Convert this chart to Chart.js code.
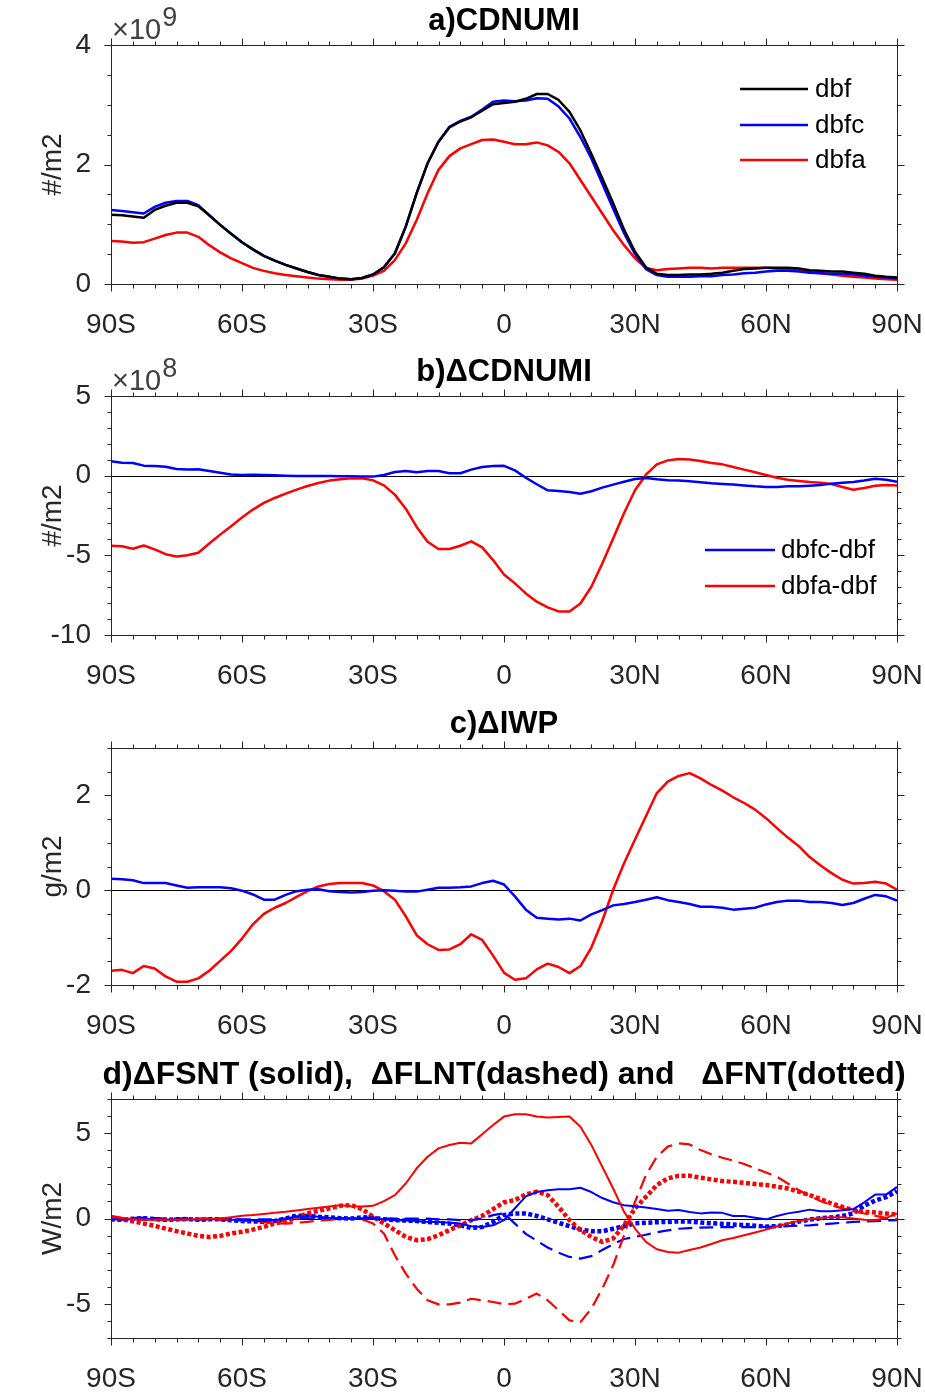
<!DOCTYPE html>
<html>
<head>
<meta charset="utf-8">
<script src="https://cdn.jsdelivr.net/npm/chart.js@4.4.0/dist/chart.umd.min.js"></script>
<style>
  html, body { margin: 0; padding: 0; background: #fff; }
  #page { position: relative; width: 925px; height: 1394px; overflow: hidden; }
  canvas { position: absolute; left: 0; }
</style>
</head>
<body>
<div id="page">
  <canvas id="chartA" width="925" height="350" style="top:0px"></canvas>
  <canvas id="chartB" width="925" height="350" style="top:350px"></canvas>
  <canvas id="chartC" width="925" height="350" style="top:700px"></canvas>
  <canvas id="chartD" width="925" height="344" style="top:1050px"></canvas>
</div>
<script>
// latitude grid (deg), 90S..90N
const lat = [-90, -87.5, -85, -82.5, -80, -77.5, -75, -72.5, -70, -67.5, -65, -62.5, -60, -57.5, -55, -52.5,
  -50, -47.5, -45, -42.5, -40, -37.5, -35, -32.5, -30, -27.5, -25, -22.5, -20, -17.5, -15, -12.5,
  -10, -7.5, -5, -2.5, 0, 2.5, 5, 7.5, 10, 12.5, 15, 17.5, 20, 22.5, 25, 27.5,
  30, 32.5, 35, 37.5, 40, 42.5, 45, 47.5, 50, 52.5, 55, 57.5, 60, 62.5, 65, 67.5,
  70, 72.5, 75, 77.5, 80, 82.5, 85, 87.5, 90];

const xTickVals = [-90, -60, -30, 0, 30, 60, 90];
const xTickLabels = ['90S', '60S', '30S', '0', '30N', '60N', '90N'];

// a) CDNUMI, x1e9 #/m2
const dbf = [1.16, 1.15, 1.13, 1.11, 1.24, 1.31, 1.36, 1.36, 1.30, 1.15, 0.99, 0.84, 0.70, 0.58, 0.47, 0.39,
  0.32, 0.26, 0.20, 0.15, 0.12, 0.09, 0.08, 0.10, 0.16, 0.28, 0.51, 0.96, 1.52, 2.02, 2.38, 2.62,
  2.72, 2.79, 2.90, 3.01, 3.03, 3.05, 3.10, 3.18, 3.18, 3.08, 2.88, 2.57, 2.18, 1.77, 1.35, 0.91,
  0.54, 0.28, 0.17, 0.15, 0.15, 0.16, 0.16, 0.17, 0.19, 0.22, 0.25, 0.26, 0.27, 0.27, 0.27, 0.26,
  0.23, 0.22, 0.21, 0.21, 0.19, 0.17, 0.14, 0.12, 0.11];
const dbfc = [1.24, 1.22, 1.20, 1.18, 1.29, 1.36, 1.39, 1.39, 1.32, 1.15, 0.99, 0.84, 0.70, 0.58, 0.47, 0.39,
  0.32, 0.26, 0.20, 0.15, 0.12, 0.09, 0.08, 0.10, 0.16, 0.28, 0.51, 0.96, 1.52, 2.02, 2.38, 2.63,
  2.73, 2.80, 2.92, 3.05, 3.07, 3.06, 3.07, 3.11, 3.10, 2.97, 2.77, 2.46, 2.10, 1.68, 1.26, 0.85,
  0.50, 0.25, 0.15, 0.12, 0.12, 0.12, 0.13, 0.13, 0.15, 0.16, 0.18, 0.19, 0.21, 0.22, 0.22, 0.21,
  0.19, 0.18, 0.17, 0.17, 0.16, 0.14, 0.12, 0.11, 0.09];
const dbfa = [0.72, 0.71, 0.69, 0.70, 0.76, 0.82, 0.86, 0.86, 0.79, 0.65, 0.53, 0.43, 0.35, 0.27, 0.22, 0.18,
  0.15, 0.13, 0.11, 0.09, 0.08, 0.07, 0.07, 0.09, 0.14, 0.22, 0.40, 0.68, 1.07, 1.52, 1.91, 2.14,
  2.27, 2.34, 2.41, 2.42, 2.38, 2.34, 2.34, 2.37, 2.32, 2.21, 2.02, 1.74, 1.46, 1.18, 0.90, 0.65,
  0.43, 0.27, 0.23, 0.25, 0.26, 0.27, 0.27, 0.26, 0.27, 0.27, 0.27, 0.27, 0.27, 0.26, 0.25, 0.22,
  0.20, 0.18, 0.16, 0.14, 0.12, 0.11, 0.09, 0.08, 0.07];

// b) delta CDNUMI, x1e8 #/m2
const dCdnC = [0.90, 0.81, 0.79, 0.63, 0.61, 0.56, 0.42, 0.38, 0.40, 0.29, 0.19, 0.08, 0.04, 0.06, 0.04, 0.02,
  0.00, -0.02, -0.02, -0.02, -0.02, -0.04, -0.04, -0.06, -0.06, 0.04, 0.23, 0.29, 0.21, 0.29, 0.29, 0.15,
  0.15, 0.38, 0.54, 0.60, 0.62, 0.33, -0.13, -0.54, -0.92, -0.96, -1.02, -1.13, -0.98, -0.75, -0.56, -0.38,
  -0.21, -0.15, -0.23, -0.29, -0.31, -0.35, -0.42, -0.48, -0.52, -0.56, -0.61, -0.67, -0.71, -0.71, -0.67, -0.67,
  -0.63, -0.58, -0.50, -0.44, -0.40, -0.31, -0.19, -0.25, -0.38];
const dCdnA = [-4.40, -4.43, -4.59, -4.38, -4.63, -4.93, -5.07, -4.99, -4.84, -4.26, -3.70, -3.17, -2.63, -2.13, -1.71, -1.40,
  -1.13, -0.88, -0.65, -0.46, -0.31, -0.23, -0.17, -0.17, -0.29, -0.61, -1.19, -2.07, -3.22, -4.15, -4.60, -4.60,
  -4.40, -4.12, -4.50, -5.30, -6.20, -6.76, -7.39, -7.91, -8.27, -8.52, -8.52, -8.02, -6.97, -5.51, -3.95, -2.34,
  -0.92, 0.06, 0.71, 0.96, 1.04, 1.02, 0.92, 0.79, 0.71, 0.54, 0.38, 0.21, 0.04, -0.13, -0.25, -0.33,
  -0.40, -0.44, -0.52, -0.71, -0.88, -0.77, -0.63, -0.58, -0.61];

// c) delta IWP, g/m2
const dIwpC = [0.24, 0.23, 0.21, 0.15, 0.15, 0.15, 0.10, 0.05, 0.06, 0.06, 0.06, 0.04, -0.01, -0.09, -0.20, -0.20,
  -0.10, -0.02, 0.01, 0.02, -0.02, -0.04, -0.05, -0.04, -0.01, 0.00, -0.01, -0.03, -0.03, 0.01, 0.05, 0.05,
  0.06, 0.08, 0.15, 0.20, 0.12, -0.13, -0.41, -0.58, -0.60, -0.62, -0.60, -0.64, -0.51, -0.42, -0.32, -0.29,
  -0.25, -0.20, -0.15, -0.21, -0.25, -0.29, -0.35, -0.35, -0.37, -0.41, -0.39, -0.37, -0.30, -0.25, -0.22, -0.22,
  -0.25, -0.25, -0.27, -0.31, -0.27, -0.18, -0.10, -0.13, -0.22];
const dIwpA = [-1.70, -1.68, -1.75, -1.60, -1.65, -1.82, -1.93, -1.93, -1.86, -1.70, -1.49, -1.28, -1.02, -0.72, -0.50, -0.37,
  -0.27, -0.14, -0.02, 0.08, 0.13, 0.15, 0.15, 0.15, 0.10, -0.02, -0.20, -0.55, -0.95, -1.14, -1.26, -1.25,
  -1.14, -0.93, -1.05, -1.38, -1.74, -1.89, -1.86, -1.67, -1.55, -1.62, -1.75, -1.60, -1.21, -0.65, 0.01, 0.57,
  1.07, 1.56, 2.05, 2.29, 2.41, 2.47, 2.36, 2.22, 2.10, 1.96, 1.84, 1.70, 1.52, 1.31, 1.11, 0.93,
  0.70, 0.52, 0.36, 0.22, 0.14, 0.15, 0.18, 0.14, 0.01];

// d) delta FSNT / FLNT / FNT, W/m2
const fsntA = [0.16, 0.04, -0.04, -0.08, -0.08, -0.08, -0.08, -0.06, -0.04, -0.02, 0.00, 0.08, 0.16, 0.20, 0.27, 0.33,
  0.39, 0.47, 0.55, 0.63, 0.70, 0.78, 0.72, 0.70, 0.74, 1.02, 1.37, 2.05, 2.94, 3.62, 4.11, 4.31,
  4.44, 4.40, 4.93, 5.48, 5.97, 6.11, 6.11, 5.97, 5.91, 5.95, 5.97, 5.38, 4.31, 3.03, 1.76, 0.39,
  -0.59, -1.37, -1.80, -1.96, -2.00, -1.84, -1.70, -1.49, -1.27, -1.14, -0.98, -0.82, -0.65, -0.45, -0.29, -0.14,
  -0.04, 0.04, 0.08, 0.08, 0.00, -0.08, -0.10, 0.04, 0.29];
const flntA = [0.05, 0.00, -0.02, -0.05, -0.05, -0.05, -0.05, -0.05, -0.05, -0.05, -0.08, -0.10, -0.12, -0.15, -0.20, -0.25,
  -0.30, -0.25, -0.20, -0.12, -0.08, -0.02, 0.00, -0.05, -0.29, -0.88, -2.15, -3.23, -4.11, -4.79, -5.03, -5.03,
  -4.93, -4.70, -4.79, -4.89, -5.02, -4.99, -4.70, -4.40, -4.79, -5.38, -5.97, -6.07, -5.28, -4.11, -2.74, -0.98,
  0.98, 2.54, 3.62, 4.21, 4.40, 4.34, 4.01, 3.76, 3.56, 3.39, 3.19, 2.94, 2.70, 2.45, 2.05, 1.66,
  1.33, 1.02, 0.78, 0.59, 0.43, 0.29, 0.16, 0.04, -0.04];
const fntA = [0.05, -0.05, -0.16, -0.30, -0.43, -0.59, -0.74, -0.88, -1.02, -1.08, -1.02, -0.88, -0.78, -0.65, -0.49, -0.29,
  -0.16, 0.04, 0.30, 0.45, 0.60, 0.75, 0.78, 0.55, 0.10, -0.29, -0.68, -1.08, -1.27, -1.21, -0.98, -0.68,
  -0.39, -0.10, 0.15, 0.55, 0.95, 1.08, 1.41, 1.57, 1.37, 0.68, -0.10, -0.68, -1.08, -1.37, -1.17, -0.39,
  0.59, 1.27, 1.96, 2.35, 2.50, 2.50, 2.39, 2.29, 2.19, 2.15, 2.09, 2.02, 1.96, 1.86, 1.76, 1.57,
  1.37, 1.14, 0.88, 0.68, 0.49, 0.39, 0.35, 0.29, 0.23];
const fsntC = [-0.05, -0.08, -0.05, -0.03, -0.05, -0.08, -0.05, -0.05, -0.08, -0.05, -0.05, -0.08, -0.10, -0.12, -0.15, -0.10,
  0.00, 0.12, 0.15, 0.10, 0.05, 0.02, 0.00, 0.02, 0.00, -0.05, -0.10, -0.12, -0.15, -0.20, -0.20, -0.25,
  -0.30, -0.45, -0.50, -0.40, -0.10, 0.60, 1.30, 1.55, 1.65, 1.72, 1.72, 1.80, 1.55, 1.20, 0.95, 0.78,
  0.72, 0.65, 0.55, 0.45, 0.50, 0.38, 0.30, 0.35, 0.33, 0.15, 0.15, 0.05, -0.05, 0.15, 0.30, 0.40,
  0.52, 0.42, 0.42, 0.48, 0.55, 0.95, 1.40, 1.40, 1.85];
const flntC = [0.00, 0.00, 0.03, 0.05, 0.03, 0.00, 0.00, 0.02, 0.00, 0.00, 0.00, -0.02, -0.05, -0.05, -0.05, -0.05,
  0.00, 0.05, 0.00, 0.00, 0.02, 0.00, 0.00, 0.05, 0.05, 0.00, 0.00, 0.00, 0.00, 0.00, -0.05, -0.05,
  -0.10, -0.10, 0.00, 0.20, 0.30, -0.30, -0.90, -1.30, -1.70, -2.00, -2.25, -2.35, -2.20, -1.85, -1.50, -1.20,
  -1.08, -0.95, -0.80, -0.70, -0.60, -0.56, -0.53, -0.52, -0.50, -0.50, -0.50, -0.50, -0.49, -0.47, -0.45, -0.42,
  -0.40, -0.35, -0.30, -0.25, -0.20, -0.18, -0.15, -0.12, -0.10];
const fntC = [-0.05, -0.08, -0.02, 0.02, -0.03, -0.08, -0.05, -0.03, -0.08, -0.05, -0.05, -0.10, -0.15, -0.17, -0.20, -0.15,
  0.00, 0.17, 0.15, 0.10, 0.07, 0.02, 0.00, 0.07, 0.05, -0.05, -0.10, -0.12, -0.15, -0.20, -0.25, -0.30,
  -0.40, -0.55, -0.50, -0.20, 0.20, 0.30, 0.30, 0.15, -0.05, -0.25, -0.45, -0.65, -0.75, -0.75, -0.60, -0.45,
  -0.28, -0.25, -0.22, -0.20, -0.17, -0.18, -0.23, -0.28, -0.31, -0.35, -0.38, -0.42, -0.47, -0.45, -0.35, -0.18,
  -0.06, 0.02, 0.06, 0.15, 0.30, 0.75, 1.05, 1.25, 1.60];

const FONT = '"Liberation Sans", Arial, Helvetica, sans-serif';
const AXIS_COLOR = '#262626';

function pts(vals) {
  return vals.map((v, i) => ({ x: lat[i], y: v }));
}

// box, outward ticks, zero line, title, y label, exponent and legend
const framePlugin = {
  id: 'frame',
  beforeDatasetsDraw(chart, args, o) {
    const { ctx, chartArea: a, scales: { y } } = chart;
    if (o.zeroLine) {
      const y0 = Math.round(y.getPixelForValue(0)) + 0.5;
      ctx.save();
      ctx.strokeStyle = '#000';
      ctx.lineWidth = 1;
      ctx.beginPath();
      ctx.moveTo(a.left, y0);
      ctx.lineTo(a.right, y0);
      ctx.stroke();
      ctx.restore();
    }
  },
  afterDraw(chart, args, o) {
    const { ctx, chartArea: a, scales: { x, y } } = chart;
    ctx.save();
    ctx.strokeStyle = AXIS_COLOR;
    ctx.lineWidth = 1;
    const L = Math.round(a.left) + 0.5, R = Math.round(a.right) + 0.5;
    const T = Math.round(a.top) + 0.5, B = Math.round(a.bottom) + 0.5;
    ctx.strokeRect(L, T, R - L, B - T);

    ctx.beginPath();
    for (let v = -90; v <= 90; v += 5) {
      const px = Math.round(x.getPixelForValue(v)) + 0.5;
      const len = v % 30 === 0 ? 7 : 4;
      ctx.moveTo(px, T); ctx.lineTo(px, T - len);
      ctx.moveTo(px, B); ctx.lineTo(px, B + len);
    }
    for (let v = y.min; v <= y.max + 1e-9; v += o.yMinor) {
      const py = Math.round(y.getPixelForValue(v)) + 0.5;
      const major = o.yMajor.some(m => Math.abs(m - v) < 1e-9);
      const len = major ? 7 : 4;
      ctx.moveTo(L, py); ctx.lineTo(L - len, py);
      ctx.moveTo(R, py); ctx.lineTo(R + len, py);
    }
    ctx.stroke();

    // title
    ctx.fillStyle = '#000';
    ctx.font = 'bold ' + o.titleSize + 'px ' + FONT;
    ctx.textAlign = 'center';
    ctx.textBaseline = 'middle';
    ctx.fillText(o.title, (a.left + a.right) / 2, a.top - 24);

    // y label
    ctx.save();
    ctx.translate(53, (a.top + a.bottom) / 2);
    ctx.rotate(-Math.PI / 2);
    ctx.fillStyle = AXIS_COLOR;
    ctx.font = '28px ' + FONT;
    ctx.fillText(o.yLabel, 0, 0);
    ctx.restore();

    // exponent
    if (o.exponent) {
      ctx.fillStyle = '#404040';
      ctx.textAlign = 'left';
      ctx.textBaseline = 'alphabetic';
      ctx.font = '29px ' + FONT;
      const base = '\u00d710';
      ctx.fillText(base, a.left + 1, a.top - 6);
      const w = ctx.measureText(base).width;
      ctx.font = '27px ' + FONT;
      ctx.fillText(o.exponent, a.left + 2 + w, a.top - 19);
    }

    // legend
    if (o.legend) {
      const lg = o.legend;
      ctx.textAlign = 'left';
      ctx.textBaseline = 'middle';
      ctx.font = '26px ' + FONT;
      chart.data.datasets.forEach((ds, i) => {
        const yy = lg.ys[i];
        ctx.strokeStyle = ds.borderColor;
        ctx.lineWidth = 2.5;
        ctx.beginPath();
        ctx.moveTo(lg.x0, yy);
        ctx.lineTo(lg.x1, yy);
        ctx.stroke();
        ctx.fillStyle = '#000';
        ctx.fillText(ds.label, lg.tx, yy + 1);
      });
    }
    ctx.restore();
  }
};

function makePanel(id, datasets, p) {
  const ctx = document.getElementById(id).getContext('2d');
  return new Chart(ctx, {
    type: 'line',
    data: { datasets: datasets },
    options: {
      responsive: false,
      animation: false,
      devicePixelRatio: 1,
      parsing: false,
      layout: { padding: { top: p.padTop, right: 28, left: 0, bottom: 0 } },
      elements: {
        point: { radius: 0 },
        line: { tension: 0, borderWidth: 2.5, fill: false, borderJoinStyle: 'round' }
      },
      scales: {
        x: {
          type: 'linear', min: -90, max: 90,
          afterBuildTicks: s => { s.ticks = xTickVals.map(v => ({ value: v })); },
          afterFit: s => { s.height = p.xAxisH; s.paddingLeft = 0; s.paddingRight = 0; },
          grid: { display: false }, border: { display: false },
          ticks: {
            callback: (v, i) => xTickLabels[i],
            font: { family: FONT, size: 28 }, color: AXIS_COLOR,
            padding: 16, maxRotation: 0, autoSkip: false
          }
        },
        y: {
          type: 'linear', min: p.yMin, max: p.yMax,
          afterBuildTicks: s => { s.ticks = p.yTicks.map(v => ({ value: v })); },
          afterFit: s => { s.width = 111; },
          grid: { display: false }, border: { display: false },
          ticks: {
            font: { family: FONT, size: 28 }, color: AXIS_COLOR, padding: 12
          }
        }
      },
      plugins: {
        legend: { display: false },
        tooltip: { enabled: false },
        frame: {
          title: p.title, titleSize: p.titleSize || 31, yLabel: p.yLabel, exponent: p.exponent,
          zeroLine: p.zeroLine, yMinor: p.yMinor, yMajor: p.yTicks, legend: p.legend
        }
      }
    },
    plugins: [framePlugin]
  });
}

const RED = '#ff0000', BLUE = '#0000ff', BLACK = '#000000';

makePanel('chartA', [
  { label: 'dbf', data: pts(dbf), borderColor: BLACK },
  { label: 'dbfc', data: pts(dbfc), borderColor: BLUE },
  { label: 'dbfa', data: pts(dbfa), borderColor: RED }
], {
  padTop: 45, xAxisH: 66, yMin: 0, yMax: 4, yTicks: [0, 2, 4], yMinor: 0.5,
  title: 'a)CDNUMI', yLabel: '#/m2', exponent: '9', zeroLine: false,
  legend: { x0: 740, x1: 808, tx: 815, ys: [89, 125, 160] }
});

makePanel('chartB', [
  { label: 'dbfc-dbf', data: pts(dCdnC), borderColor: BLUE },
  { label: 'dbfa-dbf', data: pts(dCdnA), borderColor: RED }
], {
  padTop: 46, xAxisH: 65, yMin: -10, yMax: 5, yTicks: [-10, -5, 0, 5], yMinor: 1,
  title: 'b)\u0394CDNUMI', yLabel: '#/m2', exponent: '8', zeroLine: true,
  legend: { x0: 705, x1: 775, tx: 781, ys: [200, 236] }
});

makePanel('chartC', [
  { label: 'dbfc-dbf', data: pts(dIwpC), borderColor: BLUE },
  { label: 'dbfa-dbf', data: pts(dIwpA), borderColor: RED }
], {
  padTop: 48, xAxisH: 65, yMin: -2, yMax: 3, yTicks: [-2, 0, 2], yMinor: 0.5,
  title: 'c)\u0394IWP', yLabel: 'g/m2', exponent: null, zeroLine: true, legend: null
});

makePanel('chartD', [
  { label: 'FSNT dbfa', data: pts(fsntA), borderColor: RED, borderWidth: 2 },
  { label: 'FSNT dbfc', data: pts(fsntC), borderColor: BLUE, borderWidth: 2 },
  { label: 'FLNT dbfa', data: pts(flntA), borderColor: RED, borderWidth: 2.2, borderDash: [14, 7] },
  { label: 'FLNT dbfc', data: pts(flntC), borderColor: BLUE, borderWidth: 2.2, borderDash: [14, 7] },
  { label: 'FNT dbfa', data: pts(fntA), borderColor: RED, borderWidth: 4.5, borderDash: [4, 2.5] },
  { label: 'FNT dbfc', data: pts(fntC), borderColor: BLUE, borderWidth: 4.5, borderDash: [4, 2.5] }
], {
  padTop: 49, xAxisH: 56, yMin: -7, yMax: 7, yTicks: [-5, 0, 5], yMinor: 1, titleSize: 32,
  title: 'd)\u0394FSNT (solid),  \u0394FLNT(dashed) and   \u0394FNT(dotted)', yLabel: 'W/m2',
  exponent: null, zeroLine: true, legend: null
});
</script>
</body>
</html>
